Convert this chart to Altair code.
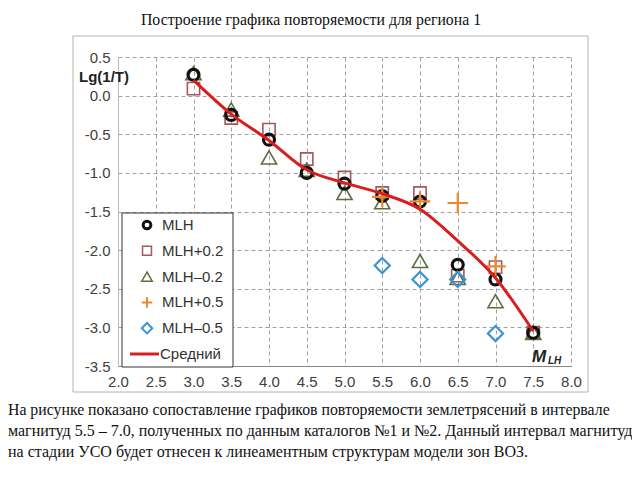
import altair as alt
import pandas as pd

# ---- data ----
magnitudes = [3.0, 3.5, 4.0, 4.5, 5.0, 5.5, 6.0, 6.5, 7.0, 7.5]
mlh        = [0.27, -0.25, -0.57, -1.00, -1.14, -1.30, -1.37, -2.19, -2.38, -3.07]
mlh_p02    = [0.09, -0.29, -0.44, -0.82, -1.06, -1.26, -1.26, -2.33, -2.22, -3.07]
mlh_m02    = [0.29, -0.18, -0.80, -0.96, -1.26, -1.38, -2.14, -2.36, -2.66, -3.07]
mag_p05    = [5.5, 6.0, 6.5, 7.0]
mlh_p05    = [-1.31, -1.37, -1.39, -2.21]
mag_m05    = [5.5, 6.0, 6.5, 7.0]
mlh_m05    = [-2.20, -2.38, -2.38, -3.08]
mean_line  = [0.20, -0.24, -0.58, -0.96, -1.13, -1.27, -1.47, -1.88, -2.36, -3.05]

series_names = ["MLH", "MLH+0.2", "MLH\u20130.2", "MLH+0.5", "MLH\u20130.5", "Средний"]
x_ticks = [2.0, 2.5, 3.0, 3.5, 4.0, 4.5, 5.0, 5.5, 6.0, 6.5, 7.0, 7.5, 8.0]
y_ticks = [0.5, 0.0, -0.5, -1.0, -1.5, -2.0, -2.5, -3.0, -3.5]

title_text = "Построение графика повторяемости для региона 1"
paragraph = [
    "На рисунке показано сопоставление графиков повторяемости землетрясений в интервале",
    "магнитуд 5.5 – 7.0, полученных по данным каталогов №1 и №2. Данный интервал магнитуд",
    "на стадии УСО будет отнесен к линеаментным структурам модели зон ВОЗ.",
]

# ---- styles ----
PLUS = "M-1,0L1,0M0,-1L0,1"
styles = {
    "MLH":        dict(shape="circle", color="#111111", size=120, sw=3.2, lsize=60, lsw=3),
    "MLH+0.2":    dict(shape="square", color="#a5575c", size=150, sw=1.6, lsize=80, lsw=1.5),
    "MLH\u20130.2": dict(shape="triangle-up", color="#5f6e3e", size=230, sw=1.6, lsize=110, lsw=1.5),
    "MLH+0.5":    dict(shape=PLUS, color="#ea8a2c", size=420, sw=2.2, lsize=110, lsw=2),
    "MLH\u20130.5": dict(shape="diamond", color="#3b94d0", size=230, sw=2.2, lsize=110, lsw=2),
}
LINE_COLOR = "#d81e1e"
SANS = "Liberation Sans"
SERIF = "Liberation Serif"

xscale = alt.Scale(domain=[2, 8], nice=False, zero=False)
yscale = alt.Scale(domain=[-3.5, 0.5], nice=False, zero=False)
xaxis = alt.Axis(values=x_ticks, format=".1f", title=None, grid=True, ticks=False,
                 labelPadding=8, labelFontSize=15, labelFont=SANS, labelColor="#404040",
                 domainColor="#888888", gridDash=[4, 3], gridColor="#a0a0a0", labelFlush=False)
yaxis = alt.Axis(values=y_ticks, title=None, grid=True, ticks=False, labelPadding=8,
                 labelExpr="replace(format(datum.value, '.1f'), '\u2212', '-')",
                 labelFontSize=15, labelFont=SANS, labelColor="#404040",
                 domainColor="#bbbbbb", gridDash=[4, 3], gridColor="#a0a0a0", labelFlush=False)

def series_df(xs, ys):
    return pd.DataFrame({"M": xs, "lg": ys})

data_sets = {
    "MLH": series_df(magnitudes, mlh),
    "MLH+0.2": series_df(magnitudes, mlh_p02),
    "MLH\u20130.2": series_df(magnitudes, mlh_m02),
    "MLH+0.5": series_df(mag_p05, mlh_p05),
    "MLH\u20130.5": series_df(mag_m05, mlh_m05),
}

one = alt.Data(values=[{"a": 1}])

frame = alt.Chart(one).mark_rect(fillOpacity=0, stroke="#b4b4b4", strokeWidth=1).encode(
    x=alt.value(-45), x2=alt.value(470), y=alt.value(-21), y2=alt.value(335))

layers = [frame]
draw_order = ["MLH+0.2", "MLH\u20130.2", "MLH", "MLH\u20130.5", "MLH+0.5"]
for name in draw_order:
    st = styles[name]
    layers.append(
        alt.Chart(data_sets[name]).mark_point(
            shape=st["shape"], color=st["color"], size=st["size"], strokeWidth=st["sw"],
            filled=False, opacity=1
        ).encode(
            x=alt.X("M:Q", scale=xscale, axis=xaxis),
            y=alt.Y("lg:Q", scale=yscale, axis=yaxis),
        )
    )

line = alt.Chart(series_df(magnitudes, mean_line)).mark_line(
    color=LINE_COLOR, strokeWidth=3, interpolate="monotone"
).encode(
    x=alt.X("M:Q", scale=xscale, axis=xaxis),
    y=alt.Y("lg:Q", scale=yscale, axis=yaxis),
)
layers.append(line)

# axis captions
layers.append(alt.Chart(one).mark_text(text="Lg(1/T)", font=SANS, fontSize=15, fontWeight="bold",
                                       color="#222222", align="center", baseline="middle")
              .encode(x=alt.value(-14), y=alt.value(20)))
layers.append(alt.Chart(one).mark_text(text="M", font=SANS, fontSize=17, fontWeight="bold",
                                       fontStyle="italic", color="#222222", align="left",
                                       baseline="middle").encode(x=alt.value(414), y=alt.value(300)))
layers.append(alt.Chart(one).mark_text(text="LH", font=SANS, fontSize=10, fontWeight="bold",
                                       fontStyle="italic", color="#222222", align="left",
                                       baseline="middle").encode(x=alt.value(430), y=alt.value(304)))

# legend box
layers.append(alt.Chart(one).mark_rect(fill="white", stroke="#333333", strokeWidth=1).encode(
    x=alt.value(4), x2=alt.value(115), y=alt.value(156), y2=alt.value(310)))
row_y0, row_dy = 168, 25.8
for i, name in enumerate(series_names):
    yy = row_y0 + i * row_dy
    if name in styles:
        st = styles[name]
        layers.append(alt.Chart(one).mark_point(
            shape=st["shape"], color=st["color"], size=st["lsize"], strokeWidth=st["lsw"],
            filled=False, opacity=1).encode(x=alt.value(29), y=alt.value(yy)))
    else:
        layers.append(alt.Chart(one).mark_rule(color=LINE_COLOR, strokeWidth=3).encode(
            x=alt.value(12), x2=alt.value(41), y=alt.value(yy)))
    layers.append(alt.Chart(one).mark_text(text=name, font=SANS, fontSize=15, color="#333333",
                                           align="left", baseline="middle")
                  .encode(x=alt.value(42 if name == "Средний" else 44), y=alt.value(yy)))

# title and paragraph
layers.append(alt.Chart(one).mark_text(text=title_text, font=SERIF, fontSize=15.8, color="#111111",
                                       align="center", baseline="middle")
              .encode(x=alt.value(193), y=alt.value(-37)))
para_sizes = [15.8, 16, 16]
for i, ln in enumerate(paragraph):
    layers.append(alt.Chart(one).mark_text(text=ln, font=SERIF, fontSize=para_sizes[i], color="#111111",
                                           align="left", baseline="middle")
                  .encode(x=alt.value(-110), y=alt.value(353 + i * 21)))

chart = alt.layer(*layers).properties(
    width=453, height=309,
    padding={"left": 110, "top": 49, "right": 61, "bottom": 106},
    autosize=alt.AutoSizeParams(type="none"),
    background="white",
).configure_view(strokeWidth=0)

chart.save("out.html", embed_options={"renderer": "svg", "actions": False})
